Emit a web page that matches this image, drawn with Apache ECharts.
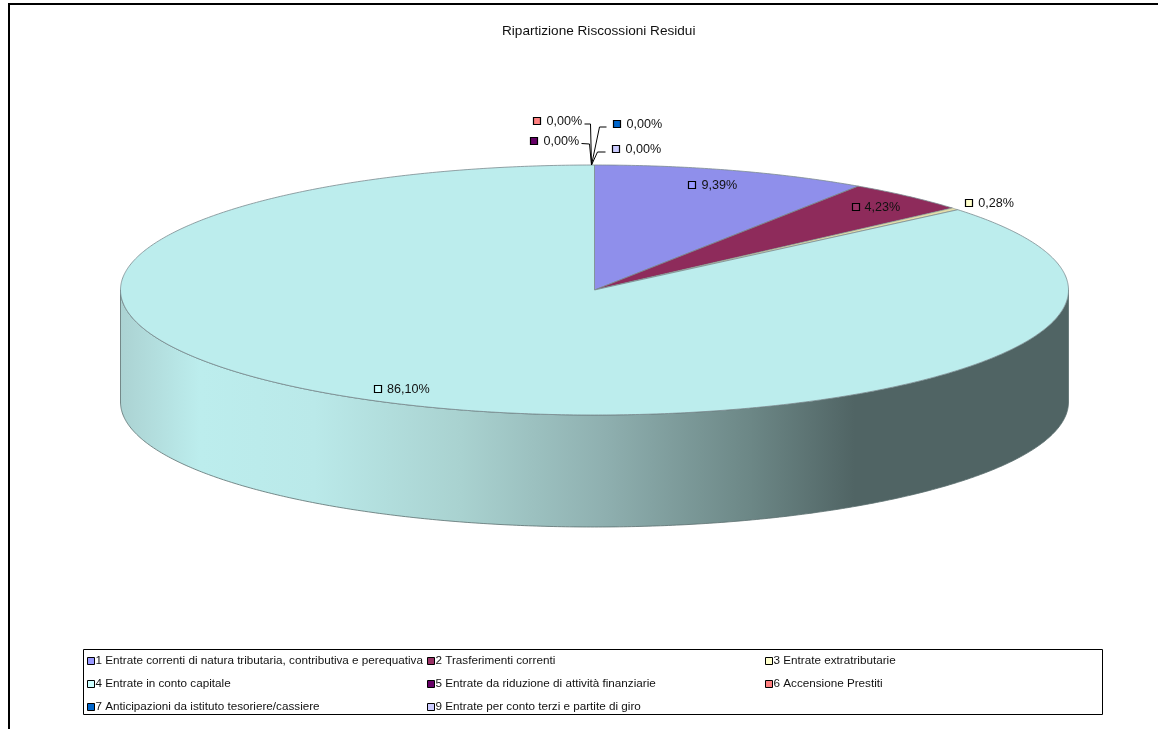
<!DOCTYPE html>
<html><head><meta charset="utf-8">
<style>html,body{margin:0;padding:0;background:#fff}#c{width:1158px;height:729px}</style>
<script src="https://cdn.jsdelivr.net/npm/echarts@6/dist/echarts.min.js"></script>
</head><body><div id="c"></div>
<script>
var titleText = 'Ripartizione Riscossioni Residui';
var categories = [
  '1 Entrate correnti di natura tributaria, contributiva e perequativa',
  '2 Trasferimenti correnti',
  '3 Entrate extratributarie',
  '4 Entrate in conto capitale',
  '5 Entrate da riduzione di attività finanziarie',
  '6 Accensione Prestiti',
  '7 Anticipazioni da istituto tesoriere/cassiere',
  '9 Entrate per conto terzi e partite di giro'
];
var values = [9.39, 4.23, 0.28, 86.10, 0, 0, 0, 0];
var topColors = ['#8F8FEB','#8E2B5B','#E3DDAA','#BCEDED','#660066','#FF8080','#0066CC','#CCCCFF'];
var legendColors = ['#9999FF','#993366','#FFFFCC','#CCFFFF','#660066','#FF8080','#0066CC','#CCCCFF'];

// layout of the drawing (not data)
var cx = 594.5, cy = 290, rx = 474, ry = 125, depth = 112;
var labelLayout = [
  {f:0.87, dx:-22, dy:-1},
  {f:0.89, dx:-18, dy:0},
  {f:1.0,  dx:14,  dy:-6},
  {f:0.89, dx:-38, dy:-2},
  {f:1.0,  dx:-60, dy:-24, leader:[[-13,-21.5],[-5,-21],[-3,0]]},
  {f:1.0,  dx:-57, dy:-44, leader:[[-10,-41],[-4,-41],[-3,0]]},
  {f:1.0,  dx:23,  dy:-41, leader:[[12,-38],[5,-38],[-3,0]]},
  {f:1.0,  dx:22,  dy:-16, leader:[[11,-13],[3,-13],[-3,0]]}
];
var legendCols = [87, 427, 765];
var legendRows = [655, 678, 701];

var total = values.reduce(function(a,b){return a+b;},0);
function pt(deg, f, extra){
  var a = deg*Math.PI/180;
  return [cx + rx*f*Math.sin(a), cy - ry*f*Math.cos(a) + (extra||0)];
}
function arc(a0, a1, extra){
  var pts=[], n=Math.max(2,Math.ceil(Math.abs(a1-a0)/0.5));
  for(var i=0;i<=n;i++) pts.push(pt(a0+(a1-a0)*i/n,1,extra));
  return pts;
}
function fmt(v){ return v.toFixed(2).replace('.',',')+'%'; }
var sideFill = new echarts.graphic.LinearGradient(120,0,1068,0,[
  {offset:0,color:'#ABD2D2'},{offset:0.084,color:'#BCEDED'},{offset:0.205,color:'#BAE9E9'},
  {offset:0.359,color:'#A9D2D0'},{offset:0.51,color:'#8FB0B0'},{offset:0.665,color:'#6C8786'},
  {offset:0.775,color:'#506464'},{offset:1,color:'#506464'}],true);

function renderer(idx){
  return function(){
    var before=0; for(var i=0;i<idx;i++) before+=values[i];
    var a0=before/total*360, a1=(before+values[idx])/total*360, mid=(a0+a1)/2;
    var kids=[];
    if(values[idx]>0){
      var s0=Math.max(a0,90), s1=Math.min(a1,270);
      if(s1>s0){
        kids.push({type:'polygon',silent:true,shape:{points:arc(s0,s1,0).concat(arc(s1,s0,depth))},
          style:{fill:sideFill,stroke:'#5A6E6E',lineWidth:0.8}});
      }
      kids.push({type:'polygon',silent:true,shape:{points:[[cx,cy]].concat(arc(a0,a1,0))},
        style:{fill:topColors[idx],stroke:'#7B8A8F',lineWidth:idx===2?0.5:0.8}});
    }
    var L=labelLayout[idx], p=pt(mid,L.f), lx=p[0]+L.dx, ly=p[1]+L.dy;
    if(L.leader){
      var anchor=pt(mid,1);
      kids.push({type:'polyline',silent:true,shape:{points:L.leader.map(function(o){return [anchor[0]+o[0],anchor[1]+o[1]];})},
        style:{stroke:'#000',lineWidth:1,fill:null}});
    }
    kids.push({type:'rect',silent:true,shape:{x:Math.round(lx)-3.5,y:Math.round(ly)-3.5,width:7,height:7},
      style:{fill:legendColors[idx],stroke:'#000',lineWidth:1.2}});
    kids.push({type:'text',silent:true,style:{x:lx+9,y:ly+0.7,text:fmt(values[idx]),fill:'#111',
      font:'12.6px "Liberation Sans"',verticalAlign:'middle',align:'left'}});
    return {type:'group',children:kids};
  };
}

var series = categories.map(function(name,i){
  return {type:'custom',name:name,coordinateSystem:'none',silent:true,animation:false,
    itemStyle:{color:legendColors[i]},data:[[values[i]]],renderItem:renderer(i)};
});
var legends = categories.map(function(name,i){
  return {data:[name],left:legendCols[i%3],top:legendRows[Math.floor(i/3)],padding:0,
    icon:'rect',itemWidth:7,itemHeight:7,itemGap:0,selectedMode:false,
    itemStyle:{borderColor:'#000',borderWidth:1},
    textStyle:{fontFamily:'Liberation Sans',fontSize:11.7,color:'#111',padding:[0,0,0,-4]}};
});

var chart = echarts.init(document.getElementById('c'),null,{renderer:'canvas'});
chart.setOption({
  animation:false,backgroundColor:'#fff',
  title:{text:titleText,left:502,top:24,padding:0,textStyle:{fontFamily:'Liberation Sans',fontSize:13.6,fontWeight:'normal',color:'#111'}},
  legend:legends,
  series:series,
  graphic:[
    {type:'rect',silent:true,z:-1,shape:{x:9,y:4,width:1200,height:800},style:{fill:'#fff',stroke:'#000',lineWidth:2}},
    {type:'rect',silent:true,z:-1,shape:{x:83.5,y:649.5,width:1019,height:65},style:{fill:'#fff',stroke:'#000',lineWidth:1}}
  ]
});
</script></body></html>
